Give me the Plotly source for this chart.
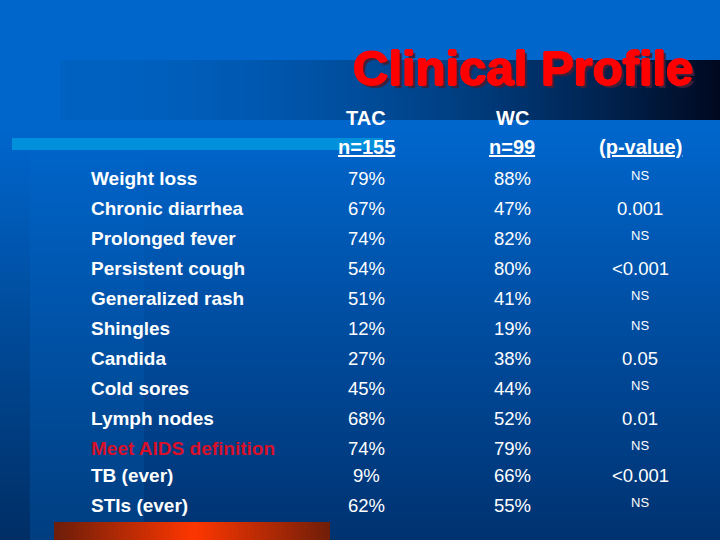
import plotly.graph_objects as go

# table content
symptoms = ["Weight loss", "Chronic diarrhea", "Prolonged fever", "Persistent cough",
            "Generalized rash", "Shingles", "Candida", "Cold sores", "Lymph nodes",
            "Meet AIDS definition", "TB (ever)", "STIs (ever)"]
tac = ["79%", "67%", "74%", "54%", "51%", "12%", "27%", "45%", "68%", "74%", "9%", "62%"]
wc = ["88%", "47%", "82%", "80%", "41%", "19%", "38%", "44%", "52%", "79%", "66%", "55%"]
pvals = ["NS", "0.001", "NS", "<0.001", "NS", "NS", "0.05", "NS", "0.01", "NS", "<0.001", "NS"]
headers_top = ["TAC", "WC"]
headers_bottom = ["<u>n=155</u>", "<u>n=99</u>", "<u>(p-value)</u>"]
title = "Clinical Profile"

row_y = [178, 208, 238, 268, 298, 328, 358, 388, 418, 448, 475, 505]
col_x = [366, 512, 640]
FONT = "Liberation Sans"
WHITE = "#ffffff"


def lerp(c1, c2, t):
    return "rgb(%d,%d,%d)" % tuple(c1[i] + (c2[i] - c1[i]) * t for i in range(3))


shapes = []


def rect(x0, y0, x1, y1, color):
    shapes.append(dict(type="rect", xref="x", yref="y", x0=x0, x1=x1, y0=y0, y1=y1,
                       fillcolor=color, line_width=0, layer="below"))


# vertical background gradient, split in three columns like the slide
bands = [(0, 30, (0, 102, 204), (0, 46, 100)),
         (30, 144, (0, 102, 204), (0, 62, 128)),
         (144, 720, (0, 102, 204), (0, 50, 112))]
for x0, x1, top, bottom in bands:
    for y in range(0, 540, 4):
        t = max(0, (y - 130) / 410)
        rect(x0, y, x1, y + 4, lerp(top, bottom, t))

# dark title band fading to the right
for x in range(60, 720, 6):
    t = (x - 60) / 660
    rect(x, 60, x + 6, 120, lerp((0, 98, 194), (0, 8, 30), t ** 1.8))

# light blue bar behind the header
rect(12, 138, 383, 150, "#0090dc")

# red-orange bar at the bottom, brightest in the middle
for x in range(54, 330, 4):
    t = 1 - abs(x - 192) / 138
    rect(x, 522, x + 4, 540, lerp((110, 30, 10), (255, 55, 0), t))

annotations = []


def label(x, y, text, size, color=WHITE, bold=False, anchor="center", shadow="none"):
    if bold:
        text = "<b>" + text + "</b>"
    annotations.append(dict(x=x, y=y, xref="x", yref="y", text=text, showarrow=False,
                            xanchor=anchor, yanchor="middle",
                            font=dict(family=FONT, size=size, color=color, shadow=shadow)))


# title, thickened and with a dark shadow
label(523, 68, title, 49, "#ff0000", bold=True,
      shadow="1px 0 0 #f00, -1px 0 0 #f00, 0 1px 0 #f00, 0 -1px 0 #f00, 3px 3px 1px #40203a")

for x, text in zip(col_x, headers_top):
    label(x, 118, text, 20, bold=True)
for x, text in zip(col_x, headers_bottom):
    label(x, 147, text, 20, bold=True)

for i, y in enumerate(row_y):
    color = "#d8102a" if symptoms[i].startswith("Meet") else WHITE
    label(89, y, symptoms[i], 19, color, bold=True, anchor="left")
    label(col_x[0], y, tac[i], 18.5)
    label(col_x[1], y, wc[i], 18.5)
    if pvals[i] == "NS":
        label(col_x[2], y - 3, pvals[i], 13)
    else:
        label(col_x[2], y, pvals[i], 18.5)

fig = go.Figure()
fig.update_layout(width=720, height=540, margin=dict(l=0, r=0, t=0, b=0),
                  paper_bgcolor="#0064c8", plot_bgcolor="#0064c8",
                  showlegend=False, shapes=shapes, annotations=annotations,
                  xaxis=dict(range=[0, 720], visible=False, fixedrange=True),
                  yaxis=dict(range=[540, 0], visible=False, fixedrange=True))

# the page default body margin would push the slide 8px off
fig.write_html("out.html", config=dict(displayModeBar=False),
               post_script="document.body.style.margin='0';document.body.style.overflow='hidden';")
